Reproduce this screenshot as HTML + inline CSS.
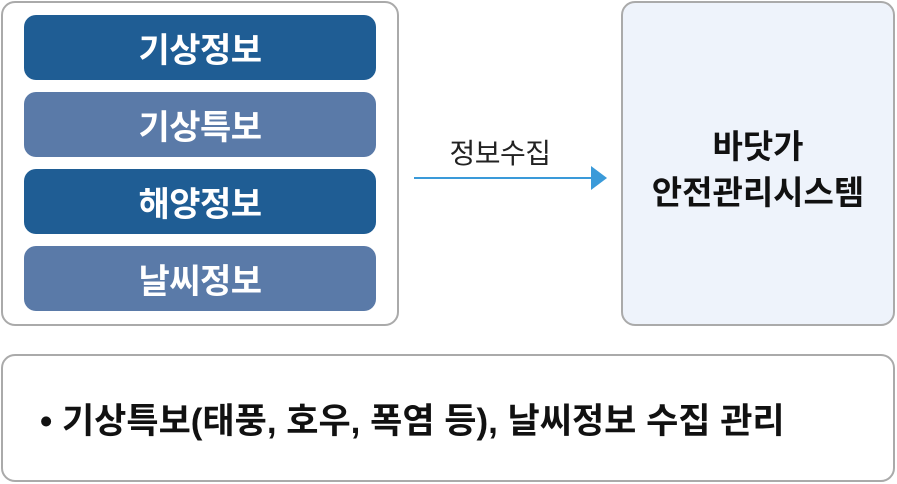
<!DOCTYPE html>
<html><head><meta charset="utf-8"><style>
body{margin:0;width:897px;height:484px;background:#fff;position:relative;font-family:"Liberation Sans","Noto Sans CJK KR",sans-serif;overflow:hidden}
.box{position:absolute;border:2px solid #aaa;border-radius:14px;box-sizing:border-box}
.bar{position:absolute;left:24px;width:352px;height:65px;border-radius:12px;color:#fff;font-weight:bold;font-size:34px;display:flex;align-items:center;justify-content:center;letter-spacing:-0.5px}
.d{background:#1f5d94}.l{background:#5a7aa8}
</style></head><body>
<div class="box" style="left:1px;top:1px;width:398px;height:325px"></div>
<div class="bar d" style="top:15px">기상정보</div>
<div class="bar l" style="top:92px">기상특보</div>
<div class="bar d" style="top:169px">해양정보</div>
<div class="bar l" style="top:246px">날씨정보</div>
<div style="position:absolute;left:400px;top:132px;width:200px;text-align:center;font-size:28px;color:#222;letter-spacing:-0.5px">정보수집</div>
<svg style="position:absolute;left:0;top:0" width="897" height="484"><line x1="414" y1="178" x2="594" y2="178" stroke="#3a9ad9" stroke-width="2"/><polygon points="591,166 607,178 591,190" fill="#3a9ad9"/></svg>
<div class="box" style="left:621px;top:1px;width:274px;height:325px;background:#eef3fb"></div>
<div style="position:absolute;left:621px;top:124px;width:274px;text-align:center;font-size:33px;font-weight:bold;line-height:46px;color:#111;letter-spacing:0">바닷가<br>안전관리시스템</div>
<div class="box" style="left:1px;top:354px;width:894px;height:128px"></div>
<div style="position:absolute;left:40px;top:393px;font-size:35px;font-weight:bold;color:#111;letter-spacing:0">• 기상특보(태풍, 호우, 폭염 등), 날씨정보 수집 관리</div>
</body></html>
